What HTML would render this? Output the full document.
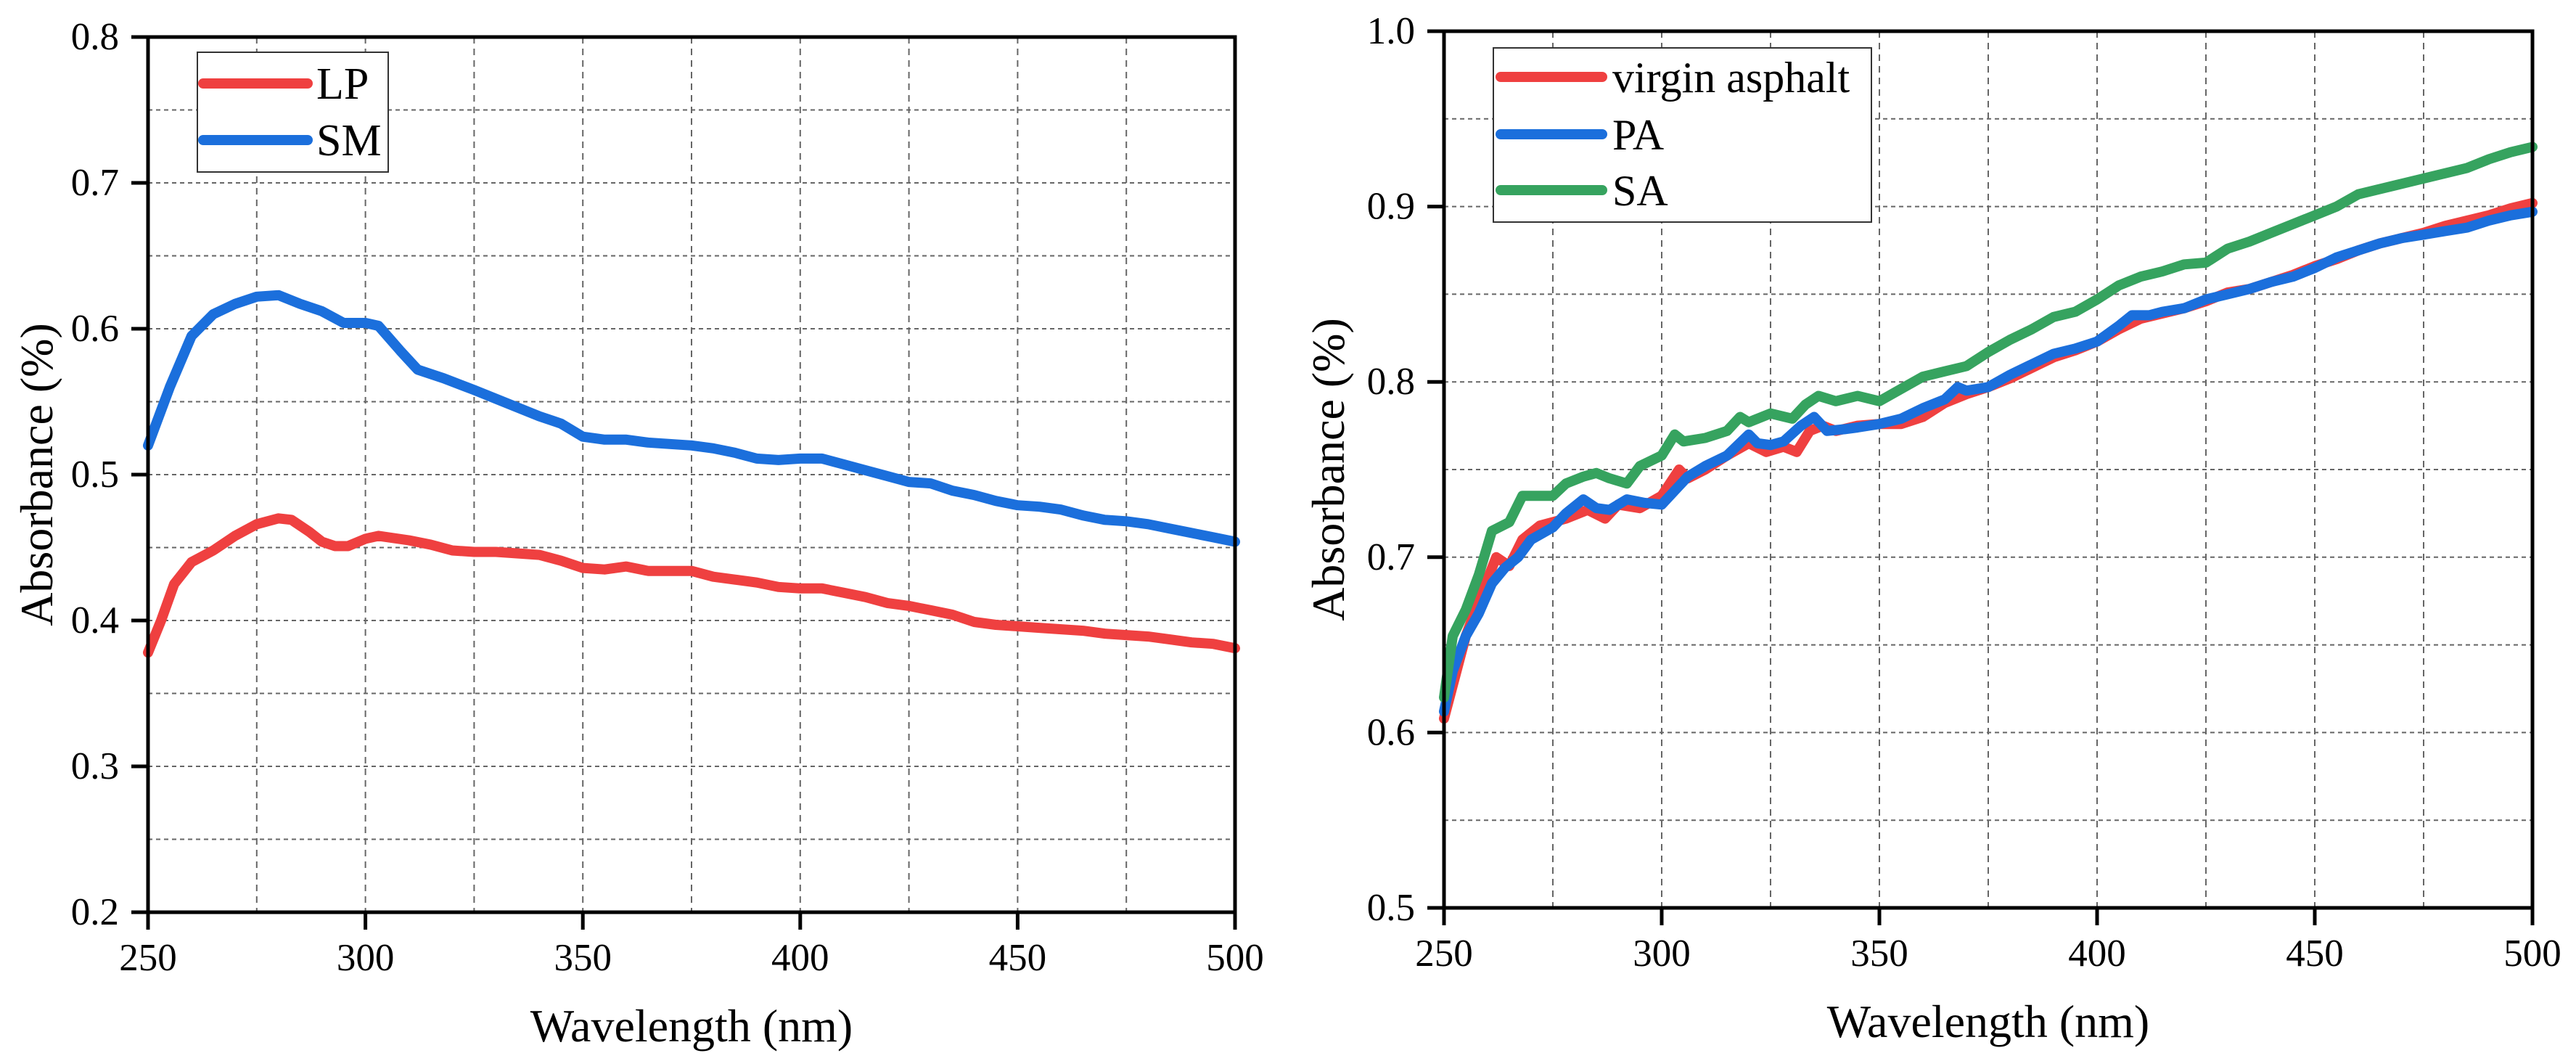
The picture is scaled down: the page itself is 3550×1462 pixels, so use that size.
<!DOCTYPE html>
<html><head><meta charset="utf-8"><style>
html,body{margin:0;padding:0;background:#fff;}
svg{display:block;font-family:"Liberation Serif",serif;}
</style></head><body>
<svg id="chart" width="3550" height="1462" viewBox="0 0 3550 1462" xmlns="http://www.w3.org/2000/svg"></svg>
<script>
// ---- Left panel data ----
const lpX = [250,253,256,260,265,270,275,280,283,287,290,293,296,300,303,310,315,320,325,330,340,345,350,355,360,365,370,375,380,385,390,395,400,405,410,415,420,425,430,435,440,445,450,455,460,465,470,475,480,485,490,495,500];
const lpY = [0.378,0.40,0.425,0.44,0.448,0.458,0.466,0.470,0.469,0.461,0.454,0.451,0.451,0.456,0.458,0.455,0.452,0.448,0.447,0.447,0.445,0.441,0.436,0.435,0.437,0.434,0.434,0.434,0.430,0.428,0.426,0.423,0.422,0.422,0.419,0.416,0.412,0.410,0.407,0.404,0.399,0.397,0.396,0.395,0.394,0.393,0.391,0.390,0.389,0.387,0.385,0.384,0.381];
const smX = [250,255,260,265,270,275,280,285,290,295,300,303,308,312,318,325,330,340,345,350,355,360,365,370,375,380,385,390,395,400,405,410,415,420,425,430,435,440,445,450,455,460,465,470,475,480,485,490,495,500];
const smY = [0.52,0.56,0.595,0.61,0.617,0.622,0.623,0.617,0.612,0.604,0.604,0.602,0.585,0.572,0.566,0.558,0.552,0.54,0.535,0.526,0.524,0.524,0.522,0.521,0.520,0.518,0.515,0.511,0.510,0.511,0.511,0.507,0.503,0.499,0.495,0.494,0.489,0.486,0.482,0.479,0.478,0.476,0.472,0.469,0.468,0.466,0.463,0.460,0.457,0.454];
const leftYTicks = ["0.2","0.3","0.4","0.5","0.6","0.7","0.8"];
const xTickLabels = ["250","300","350","400","450","500"];
// ---- Right panel data ----
const vaX = [250,255,258,262,265,268,272,278,283,287,290,295,300,304,306,310,315,320,324,328,331,334,337,340,345,350,355,360,365,370,375,380,385,390,395,400,405,410,415,420,425,430,435,440,445,450,455,460,465,470,475,480,485,490,495,500];
const vaY = [0.608,0.655,0.675,0.70,0.695,0.71,0.718,0.722,0.727,0.722,0.73,0.728,0.735,0.750,0.745,0.750,0.758,0.765,0.760,0.763,0.760,0.772,0.775,0.772,0.775,0.776,0.776,0.780,0.788,0.793,0.797,0.802,0.808,0.814,0.818,0.823,0.830,0.836,0.839,0.842,0.846,0.851,0.853,0.857,0.861,0.866,0.870,0.875,0.879,0.882,0.885,0.889,0.892,0.895,0.899,0.902];
const paX = [250,252,255,258,261,264,267,270,275,278,282,285,288,292,296,300,303,306,310,315,320,322,325,328,332,335,338,342,345,350,355,360,365,368,370,375,380,385,390,395,400,405,408,412,415,420,425,430,435,440,445,450,455,460,465,470,475,480,485,490,495,500];
const paY = [0.612,0.635,0.655,0.668,0.685,0.694,0.700,0.71,0.717,0.725,0.733,0.728,0.727,0.733,0.731,0.730,0.738,0.746,0.752,0.758,0.770,0.765,0.764,0.766,0.775,0.780,0.772,0.773,0.774,0.776,0.779,0.785,0.790,0.797,0.795,0.797,0.804,0.810,0.816,0.819,0.823,0.832,0.838,0.838,0.840,0.842,0.847,0.850,0.853,0.857,0.860,0.865,0.871,0.875,0.879,0.882,0.884,0.886,0.888,0.892,0.895,0.897];
const saX = [250,252,255,258,261,265,268,272,275,278,282,285,288,292,295,300,303,305,310,315,318,320,325,330,333,336,340,345,350,355,360,365,370,375,380,385,390,395,400,405,410,415,420,425,430,435,440,445,450,455,460,465,470,475,480,485,490,495,500];
const saY = [0.62,0.655,0.67,0.69,0.715,0.72,0.735,0.735,0.735,0.742,0.746,0.748,0.745,0.742,0.752,0.758,0.77,0.766,0.768,0.772,0.78,0.777,0.782,0.779,0.787,0.792,0.789,0.792,0.789,0.796,0.803,0.806,0.809,0.817,0.824,0.830,0.837,0.840,0.847,0.855,0.860,0.863,0.867,0.868,0.876,0.880,0.885,0.890,0.895,0.900,0.907,0.910,0.913,0.916,0.919,0.922,0.927,0.931,0.934];
const rightYTicks = ["0.5","0.6","0.7","0.8","0.9","1.0"];

const NS = "http://www.w3.org/2000/svg";
const svg = document.getElementById('chart');
function mk(tag, attrs, parent){ const e=document.createElementNS(NS,tag); for(const k in attrs) e.setAttribute(k,attrs[k]); (parent||svg).appendChild(e); return e; }

function panel(cfg){
  const g = mk('g',{});
  
  
  const xs = v => cfg.x0 + (v-250)/250*(cfg.x1-cfg.x0);
  const ys = v => cfg.yb + (v-cfg.ymin)/(cfg.ymax-cfg.ymin)*(cfg.yt-cfg.yb);
  const grid = mk('g',{stroke:'#666','stroke-width':2,'stroke-dasharray':'9,7'},g);
  
  
  for(let v=275; v<500; v+=25){ mk('line',{x1:xs(v),x2:xs(v),y1:cfg.yt,y2:cfg.yb},grid); }
  const nY = Math.round((cfg.ymax-cfg.ymin)/0.05);
  for(let i=1;i<nY;i++){ const y=ys(cfg.ymin+i*0.05); mk('line',{x1:cfg.x0,x2:cfg.x1,y1:y,y2:y,'stroke-dasharray':'6,5'},grid); }
  cfg.series.forEach(s=>{
    const p = s.x.map((v,i)=>(i?'L':'M')+xs(v).toFixed(1)+','+ys(s.y[i]).toFixed(1)).join(' ');
    const path = mk('path',{d:p,fill:'none',stroke:s.color,'stroke-width':14,'stroke-linejoin':'round','stroke-linecap':'round'},g);
    
    
  });
  const fr = mk('rect',{x:cfg.x0,y:cfg.yt,width:cfg.x1-cfg.x0,height:cfg.yb-cfg.yt,fill:'none',stroke:'#000','stroke-width':5},g);
  
  
  xTickLabels.forEach(t=>{
    const x=xs(+t);
    mk('line',{x1:x,x2:x,y1:cfg.yb,y2:cfg.yb+24,stroke:'#000','stroke-width':5},g);
    const tx = mk('text',{x:x,y:cfg.yb+80,'text-anchor':'middle','font-size':53},g);
    tx.textContent=t;
    
    
  });
  cfg.yTicks.forEach(t=>{
    const y=ys(+t);
    mk('line',{x1:cfg.x0-23,x2:cfg.x0,y1:y,y2:y,stroke:'#000','stroke-width':5},g);
    const tx = mk('text',{x:cfg.x0-40,y:y+17,'text-anchor':'end','font-size':53},g);
    tx.textContent=t;
    
    
  });
  const xt = mk('text',{x:(cfg.x0+cfg.x1)/2,y:cfg.yb+178,'text-anchor':'middle','font-size':64},g);
  xt.textContent='Wavelength (nm)';
  
  
  const yt = mk('text',{x:0,y:0,'text-anchor':'middle','font-size':64,transform:`translate(${cfg.ytx},${(cfg.yt+cfg.yb)/2}) rotate(-90)`},g);
  yt.textContent='Absorbance (%)';
  
  
  const L = cfg.legend;
  const lg = mk('g',{},g);
  
  
  mk('rect',{x:L.x,y:L.y,width:L.w,height:L.h,fill:'#fff',stroke:'#333','stroke-width':2},lg);
  cfg.series.forEach((s,i)=>{
    const y = L.rows[i];
    const e = mk('g',{},lg);
    
    
    mk('line',{x1:L.lx1,x2:L.lx2,y1:y,y2:y,stroke:s.color,'stroke-width':14,'stroke-linecap':'round'},e);
    const t = mk('text',{x:L.tx,y:y+21,'font-size':L.fs},e);
    t.textContent=s.label;
  });
}

panel({name:'left-chart',x0:204,x1:1702,yt:51,yb:1257,ymin:0.2,ymax:0.8,yTicks:leftYTicks,ytx:72,
  series:[{key:'lp',label:'LP',color:'#ef4040',x:lpX,y:lpY},{key:'sm',label:'SM',color:'#1b6fdc',x:smX,y:smY}],
  legend:{x:272,y:72,w:263,h:165,lx1:280,lx2:424,tx:436,rows:[115,193],fs:62}});
panel({name:'right-chart',x0:1990,x1:3490,yt:43,yb:1251,ymin:0.5,ymax:1.0,yTicks:rightYTicks,ytx:1852,
  series:[{key:'virgin-asphalt',label:'virgin asphalt',color:'#ef4040',x:vaX,y:vaY},{key:'pa',label:'PA',color:'#1b6fdc',x:paX,y:paY},{key:'sa',label:'SA',color:'#36a35f',x:saX,y:saY}],
  legend:{x:2058,y:66,w:521,h:240,lx1:2068,lx2:2208,tx:2222,rows:[106,185,262],fs:60}});
</script>
</body></html>
